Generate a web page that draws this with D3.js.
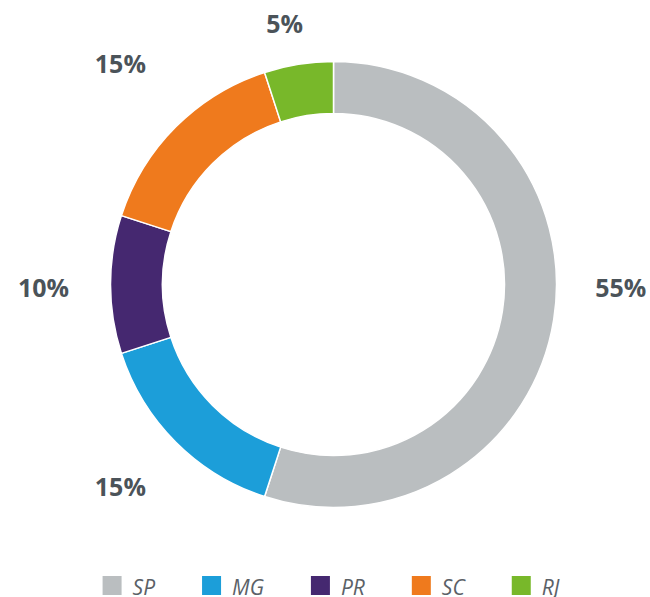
<!DOCTYPE html>
<html>
<head>
<meta charset="utf-8">
<script src="https://cdn.jsdelivr.net/npm/d3@7"></script>
<style>
  html, body { margin: 0; padding: 0; background: #fff; }
  svg { display: block; }
</style>
</head>
<body>
<svg id="chart" width="650" height="597"></svg>
<script>
// ---- data ----
const categories = ["SP", "MG", "PR", "SC", "RJ"];
const values = [55, 15, 10, 15, 5];
const colors = ["#babec0", "#1c9ed9", "#452870", "#ef7a1d", "#78b82a"];

// ---- layout ----
const W = 650, H = 597;
const cx = 333.5, cy = 284.5;
const outerR = 223, innerR = 171;
const labelR = 300;
// per-label layout nudges (label placement only)
const labelNudge = [[-9, -43], [-1, -10], [10, 3], [-1, -8], [-2, 36]];

const svg = d3.select("#chart");
const data = categories.map((c, i) => ({ cat: c, value: values[i], color: colors[i], idx: i }));

const pie = d3.pie().sort(null).value(d => d.value);
const arcs = pie(data);
const arc = d3.arc().innerRadius(innerR).outerRadius(outerR);

const g = svg.append("g").attr("transform", `translate(${cx},${cy})`);
g.selectAll("path.slice")
  .data(arcs)
  .enter().append("path")
  .attr("class", "slice")
  .attr("d", arc)
  .attr("fill", d => d.data.color)
  .attr("stroke", "#fff")
  .attr("stroke-width", 1.5)
  .attr("stroke-linejoin", "round");

const labelArc = d3.arc().innerRadius(labelR).outerRadius(labelR);
g.selectAll("text.lbl")
  .data(arcs)
  .enter().append("text")
  .attr("class", "lbl")
  .attr("x", d => labelArc.centroid(d)[0] + labelNudge[d.data.idx][0])
  .attr("y", d => labelArc.centroid(d)[1] + labelNudge[d.data.idx][1])
  .attr("dy", "0.36em")
  .attr("text-anchor", "middle")
  .attr("font-family", "'Open Sans', sans-serif")
  .attr("font-weight", "bold")
  .attr("font-size", 25)
  .attr("fill", "#4b5359")
  .text(d => d3.format(".0%")(d.data.value / d3.sum(values)));

// ---- legend ----
const legendY = 576, sq = 19, textGap = 11, itemGap = 47;
const lg = svg.append("g");
const items = lg.selectAll("g.item").data(data).enter().append("g").attr("class", "item");
items.append("rect").attr("width", sq).attr("height", sq).attr("fill", d => d.color);
const texts = items.append("text")
  .attr("x", sq + textGap)
  .attr("y", sq)
  .attr("font-family", "'Open Sans', sans-serif")
  .attr("font-style", "italic")
  .attr("font-size", 21)
  .attr("fill", "#5b6167")
  .text(d => d.cat);
let xpos = 0;
const offsets = [];
texts.each(function () {
  offsets.push(xpos);
  xpos += sq + textGap + this.getComputedTextLength() + itemGap;
});
const totalW = xpos - itemGap;
const startX = 331 - totalW / 2;
items.attr("transform", (d, i) => `translate(${startX + offsets[i]},${legendY})`);
</script>
</body>
</html>
